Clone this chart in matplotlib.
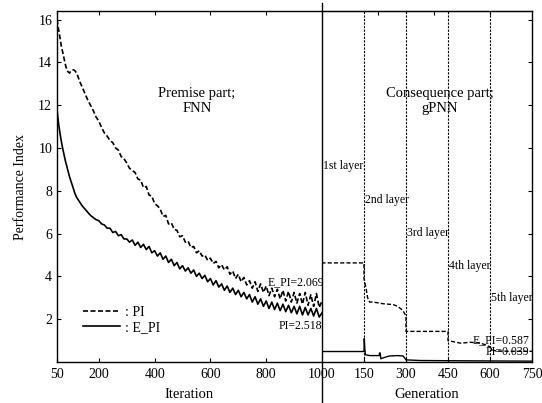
import matplotlib
matplotlib.use('Agg')
import matplotlib.pyplot as plt
from matplotlib.lines import Line2D

plt.rcParams['font.family'] = 'Liberation Serif'
plt.rcParams['font.size'] = 10

# premise part (FNN): iterations 50..1000
iteration = [50, 55, 60, 65, 70, 75, 80, 85, 90, 95, 100, 105, 110, 115, 120, 125, 130,
             140, 150, 160, 170, 180, 190, 200, 210, 220, 230, 240, 250, 260, 270, 280, 290] \
            + list(range(300, 1001, 10))

pi_fnn = [16.0, 15.6, 15.2, 14.8, 14.5, 14.2, 13.9, 13.65, 13.55, 13.5, 13.6, 13.65, 13.65,
          13.6, 13.5, 13.35, 13.15, 12.85, 12.55, 12.25, 12.0, 11.75, 11.45, 11.25, 10.95,
          10.7, 10.55, 10.35, 10.25, 10.0, 9.9, 9.6, 9.5,
          9.30, 9.05, 8.95, 8.85, 8.55, 8.50, 8.15, 8.20, 7.80, 7.75,
          7.40, 7.30, 7.15, 6.80, 6.85, 6.45, 6.50, 6.20, 6.15, 5.85,
          5.90, 5.60, 5.65, 5.35, 5.40, 5.10, 5.20, 4.95, 5.00, 4.75,
          4.85, 4.60, 4.70, 4.40, 4.55, 4.30, 4.45, 4.10, 4.25, 3.90,
          4.10, 3.75, 3.95, 3.60, 3.80, 3.45, 3.75, 3.30, 3.65, 3.25,
          3.55, 3.10, 3.45, 3.05, 3.40, 2.95, 3.35, 2.85, 3.30, 2.80,
          3.25, 2.75, 3.20, 2.70, 3.25, 2.65, 3.15, 2.60, 3.20, 2.55, 2.85]

e_pi_fnn = [11.8, 11.2, 10.75, 10.35, 10.0, 9.7, 9.4, 9.15, 8.9, 8.65, 8.45, 8.25, 8.05,
            7.85, 7.7, 7.6, 7.5, 7.3, 7.15, 7.0, 6.85, 6.75, 6.65, 6.6, 6.45, 6.4, 6.25,
            6.25, 6.05, 6.1, 5.9, 5.95, 5.75,
            5.75, 5.60, 5.70, 5.45, 5.60, 5.35, 5.50, 5.25, 5.40, 5.10,
            5.20, 4.95, 5.10, 4.80, 4.95, 4.65, 4.80, 4.50, 4.65, 4.35,
            4.50, 4.25, 4.40, 4.15, 4.30, 4.00, 4.15, 3.90, 4.05, 3.75,
            3.90, 3.60, 3.80, 3.50, 3.65, 3.35, 3.55, 3.25, 3.45, 3.15,
            3.35, 3.05, 3.25, 2.95, 3.15, 2.80, 3.05, 2.70, 2.95, 2.60,
            2.85, 2.50, 2.80, 2.45, 2.75, 2.40, 2.70, 2.35, 2.65, 2.30,
            2.60, 2.25, 2.60, 2.20, 2.55, 2.20, 2.50, 2.15, 2.50, 2.10, 2.30]

# consequence part (gPNN): generations 0..750
gen_pi = [0, 0, 150, 150, 153, 158, 163, 170, 183, 220, 255, 270, 285, 291, 300, 300,
          330, 450, 450, 465, 495, 530, 560, 585, 600, 605, 620, 660, 700, 750]
pi_gpnn = [2.85, 4.63, 4.63, 3.9, 3.7, 3.4, 3.0, 2.8, 2.8, 2.72, 2.68, 2.6, 2.45, 2.36,
           2.15, 1.43, 1.43, 1.43, 1.0, 0.96, 0.88, 0.92, 0.9, 0.8, 0.7, 0.58, 0.52,
           0.5, 0.5, 0.5]

gen_epi = [0, 0, 150, 151, 153, 155, 170, 205, 205, 208, 210, 220, 240, 270, 290, 300,
           350, 450, 600, 750]
e_pi_gpnn = [2.3, 0.49, 0.49, 1.1, 0.6, 0.34, 0.3, 0.3, 0.42, 0.42, 0.15, 0.2, 0.28,
             0.3, 0.28, 0.1, 0.07, 0.06, 0.05, 0.04]

layer_bounds = [150, 300, 450, 600]
layer_names = ['1st layer', '2nd layer', '3rd layer', '4th layer', '5th layer']
layer_starts = [0, 150, 300, 450, 600]
layer_text_y = [9.17, 7.55, 6.05, 4.5, 3.0]

W, H = 542, 403
fig = plt.figure(figsize=(W / 100, H / 100), dpi=100)
ax1 = fig.add_axes([57 / W, 41 / H, 265 / W, 351 / H])
ax2 = fig.add_axes([322 / W, 41 / H, 210 / W, 351 / H])

dash = (0, (3, 1.5))
l_pi, = ax1.plot(iteration, pi_fnn, color='k', lw=1.2, ls=dash)
l_epi, = ax1.plot(iteration, e_pi_fnn, color='k', lw=1.2)
ax2.plot(gen_pi, pi_gpnn, color='k', lw=1.0, ls=dash)
ax2.plot(gen_epi, e_pi_gpnn, color='k', lw=1.0)

for g in layer_bounds:
    ax2.axvline(g, color='k', lw=0.8, ls=(0, (2, 1.2)))

ax1.set_xlim(50, 1000)
ax2.set_xlim(0, 750)
for ax in (ax1, ax2):
    ax.set_ylim(0, 16.4)
    for s in ax.spines.values():
        s.set_linewidth(1.0)

ax1.set_xticks([50, 200, 400, 600, 800, 1000])
ax1.set_yticks([2, 4, 6, 8, 10, 12, 14, 16])
ax1.tick_params(direction='in', length=3, top=True, right=False, labelsize=10)
ax1.tick_params(axis='y', pad=3.5)
ax1.tick_params(axis='x', pad=4)
ax1.spines['right'].set_visible(False)

ax2.set_xticks([150, 300, 450, 600, 750])
ax2.set_yticks([2, 4, 6, 8, 10, 12, 14, 16])
ax2.tick_params(direction='in', length=3, left=False, right=True, labelleft=False,
                top=False, labelsize=10, pad=4)
ax2.spines['left'].set_visible(False)
sec = ax2.secondary_xaxis('top')
sec.set_xticks([200, 400, 600])
sec.tick_params(direction='in', length=3, labeltop=False)

ax1.set_xlabel('Iteration', fontsize=10.5, labelpad=5)
ax2.set_xlabel('Generation', fontsize=10.5, labelpad=5)
ax1.set_ylabel('Performance Index', fontsize=10, labelpad=8)

# boundary between the two parts
xb = 322 / W
fig.add_artist(Line2D([xb, xb], [0, (H - 3) / H], transform=fig.transFigure,
                      color='k', lw=1.0))

ax1.text(552, 12.2, 'Premise part;\nFNN', ha='center', va='center', fontsize=10.5,
         linespacing=1.2)
ax2.text(420, 12.2, 'Consequence part;\ngPNN', ha='center', va='center', fontsize=10.5,
         linespacing=1.2)

for name, g, y in zip(layer_names, layer_starts, layer_text_y):
    ax2.text(g + 2, y, name, ha='left', va='center', fontsize=8.5)

ax1.text(1008, 3.75, 'E_PI=2.069', ha='right', va='center', fontsize=8.5, clip_on=False)
ax1.text(1000, 1.67, 'PI=2.518', ha='right', va='center', fontsize=8.5, clip_on=False)
ax2.text(740, 1.0, 'E_PI=0.587', ha='right', va='center', fontsize=8.5)
ax2.text(740, 0.45, 'PI=0.039', ha='right', va='center', fontsize=8.5)

ax1.legend([l_pi, l_epi], [': PI', ': E_PI'], loc='lower left',
           bbox_to_anchor=(0.098, 0.08), frameon=False, fontsize=10,
           handlelength=2.7, handletextpad=0.3, labelspacing=0.15,
           borderpad=0, borderaxespad=0)

fig.savefig('out.png', dpi=100)
